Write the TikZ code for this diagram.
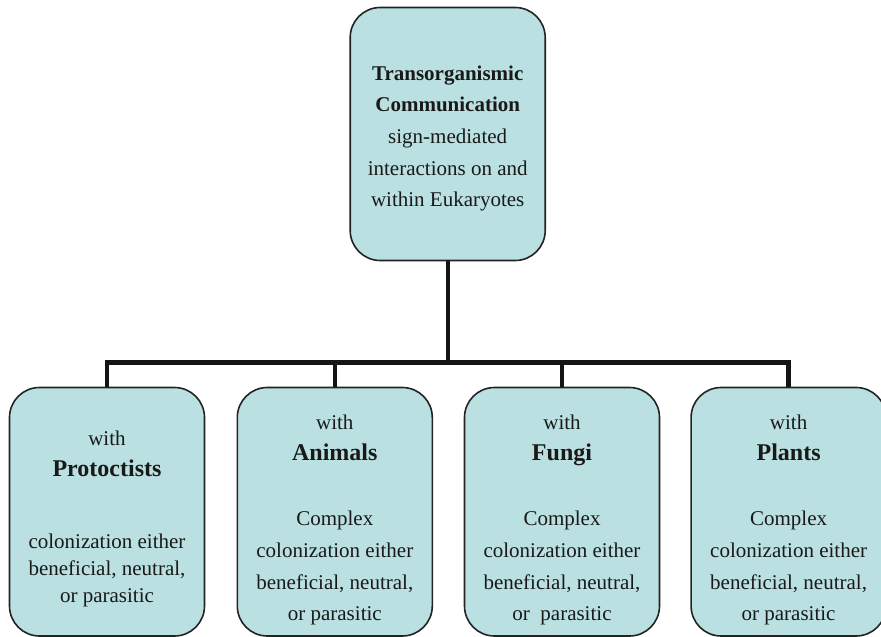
\documentclass[tikz,border=0pt]{standalone}
\usepackage{fontspec}
\setmainfont{Liberation Serif}
\definecolor{boxfill}{RGB}{186,224,225}
\definecolor{boxline}{RGB}{35,35,35}
\definecolor{wire}{RGB}{20,20,20}
\definecolor{ink}{RGB}{25,25,25}
\tikzset{
  orgbox/.style={draw=boxline, line width=1.6pt, fill=boxfill, rounded corners=30pt,
                 minimum width=195pt, inner sep=0pt},
  wireline/.style={draw=wire, line width=4.4pt, line join=miter},
  txt/.style={anchor=base, inner sep=0pt, text=ink, font=\fontsize{21}{25}\selectfont},
  txtb/.style={txt, font=\fontsize{21}{25}\selectfont\bfseries},
  kingdom/.style={txt, font=\fontsize{24}{28}\selectfont\bfseries},
}
\begin{document}
\begin{tikzpicture}[x=1pt,y=-1pt]
\useasboundingbox (0,0) rectangle (881,637);
\clip (0,0) rectangle (881,637);

% boxes
\node[orgbox, minimum height=253pt] (top) at (447.7,134) {};
\node[orgbox, minimum height=248.5pt] (p1) at (107,511.75) {};
\node[orgbox, minimum height=248.5pt] (p2) at (334.8,511.75) {};
\node[orgbox, minimum height=248.5pt] (p3) at (562,511.75) {};
\node[orgbox, minimum height=248.5pt] (p4) at (788.6,511.75) {};

% tree connectors
\coordinate (hub) at (447.7,362.5);
\draw[wireline] (p1.north) -- (p1.north |- hub) -- (p4.north |- hub) -- (p4.north);
\draw[wireline] (top.south) -- (hub);
\draw[wireline] (p2.north) -- (p2.north |- hub);
\draw[wireline] (p3.north) -- (p3.north |- hub);

% root text
\node[txtb] (r1) at (447.7,80) {Transorganismic};
\node[txtb] (r2) at (447.7,111.5) {Communication};
\node[txt] (r3) at (447.7,143.3) {sign-mediated};
\node[txt] (r4) at (447.7,175) {interactions on and};
\node[txt] (r5) at (447.7,206.7) {within Eukaryotes};

% protoctists
\node[txt] (a1) at (107,445) {with};
\node[kingdom] (a2) at (107,476.7) {Protoctists};
\node[txt] (a3) at (107,548.5) {colonization either};
\node[txt] (a4) at (107,575.5) {beneficial, neutral,};
\node[txt] (a5) at (107,602.5) {or parasitic};

% animals
\node[txt] (b1) at (334.8,429.5) {with};
\node[kingdom] (b2) at (334.8,460.5) {Animals};
\node[txt] (b3) at (334.8,525) {Complex};
\node[txt] (b4) at (334.8,557) {colonization either};
\node[txt] (b5) at (334.8,589) {beneficial, neutral,};
\node[txt] (b6) at (334.8,620) {or parasitic};

% fungi
\node[txt] (c1) at (562,429.5) {with};
\node[kingdom] (c2) at (562,460.5) {Fungi};
\node[txt] (c3) at (562,525) {Complex};
\node[txt] (c4) at (562,557) {colonization either};
\node[txt] (c5) at (562,589) {beneficial, neutral,};
\node[txt] (c6) at (562,620) {or\ \ parasitic};

% plants
\node[txt] (d1) at (788.6,429.5) {with};
\node[kingdom] (d2) at (788.6,460.5) {Plants};
\node[txt] (d3) at (788.6,525) {Complex};
\node[txt] (d4) at (788.6,557) {colonization either};
\node[txt] (d5) at (788.6,589) {beneficial, neutral,};
\node[txt] (d6) at (788.6,620) {or parasitic};
\end{tikzpicture}
\end{document}
